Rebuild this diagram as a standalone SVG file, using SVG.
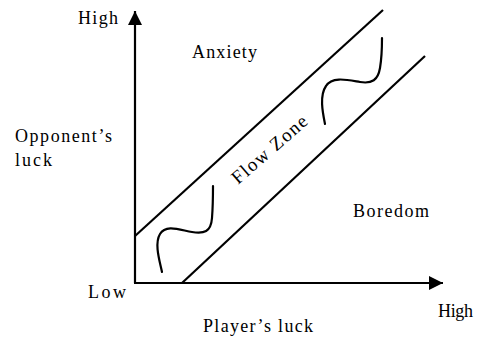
<svg xmlns="http://www.w3.org/2000/svg" width="479" height="338" viewBox="0 0 479 338">
<style>
.ln{stroke:#000;stroke-width:2.2;fill:none}
.w{stroke:#000;stroke-width:2.2;fill:none;stroke-linecap:round}
</style>
<defs>
<marker id="ah" viewBox="0 0 10 10" refX="10" refY="5" markerWidth="14" markerHeight="14" markerUnits="userSpaceOnUse" orient="auto">
<path d="M0,0 L10,5 L0,10 z" fill="#000"/>
</marker>
</defs>
<rect width="479" height="338" fill="#fff"/>
<g id="connectors">
<line id="y-axis" class="ln" x1="135" y1="283" x2="135" y2="11" marker-end="url(#ah)"/>
<line id="x-axis" class="ln" x1="134" y1="283" x2="443" y2="283" marker-end="url(#ah)"/>
<line id="upper-bound" class="ln" x1="135" y1="236" x2="383" y2="10"/>
<line id="lower-bound" class="ln" x1="182" y1="283" x2="425" y2="56"/>
<path id="wave1" class="w" d="M162,272 C160,262 154,244 160,234 C166,224 180,230 192,232 C204,234 211,232 212,218 C213,205 213,195 213,186"/>
<path id="wave2" class="w" d="M325,124 C323,114 319,96 326,86 C332,76 348,80 360,82 C372,84 378,80 380,68 C382,56 382,46 382,38"/>
</g>
<g font-family="Liberation Serif, Times New Roman, serif" font-size="18" fill="#000">
<g id="label-high-y"><text x="78" y="24" textLength="40" lengthAdjust="spacing">High</text></g>
<g id="label-anxiety"><text x="192" y="58" textLength="65" lengthAdjust="spacing">Anxiety</text></g>
<g id="label-opponent"><text x="15" y="142" textLength="97" lengthAdjust="spacing">Opponent’s</text><text x="15" y="166" textLength="37" lengthAdjust="spacing">luck</text></g>
<g id="label-flow"><text x="0" y="0" font-size="19" textLength="94" lengthAdjust="spacing" transform="translate(238,185) rotate(-41)">Flow Zone</text></g>
<g id="label-boredom"><text x="353" y="217" textLength="76" lengthAdjust="spacing">Boredom</text></g>
<g id="label-low"><text x="88" y="298" textLength="38" lengthAdjust="spacing">Low</text></g>
<g id="label-player"><text x="203" y="332" textLength="110" lengthAdjust="spacing">Player’s luck</text></g>
<g id="label-high-x"><text x="438" y="317" textLength="35" lengthAdjust="spacing">High</text></g>
</g>
</svg>
